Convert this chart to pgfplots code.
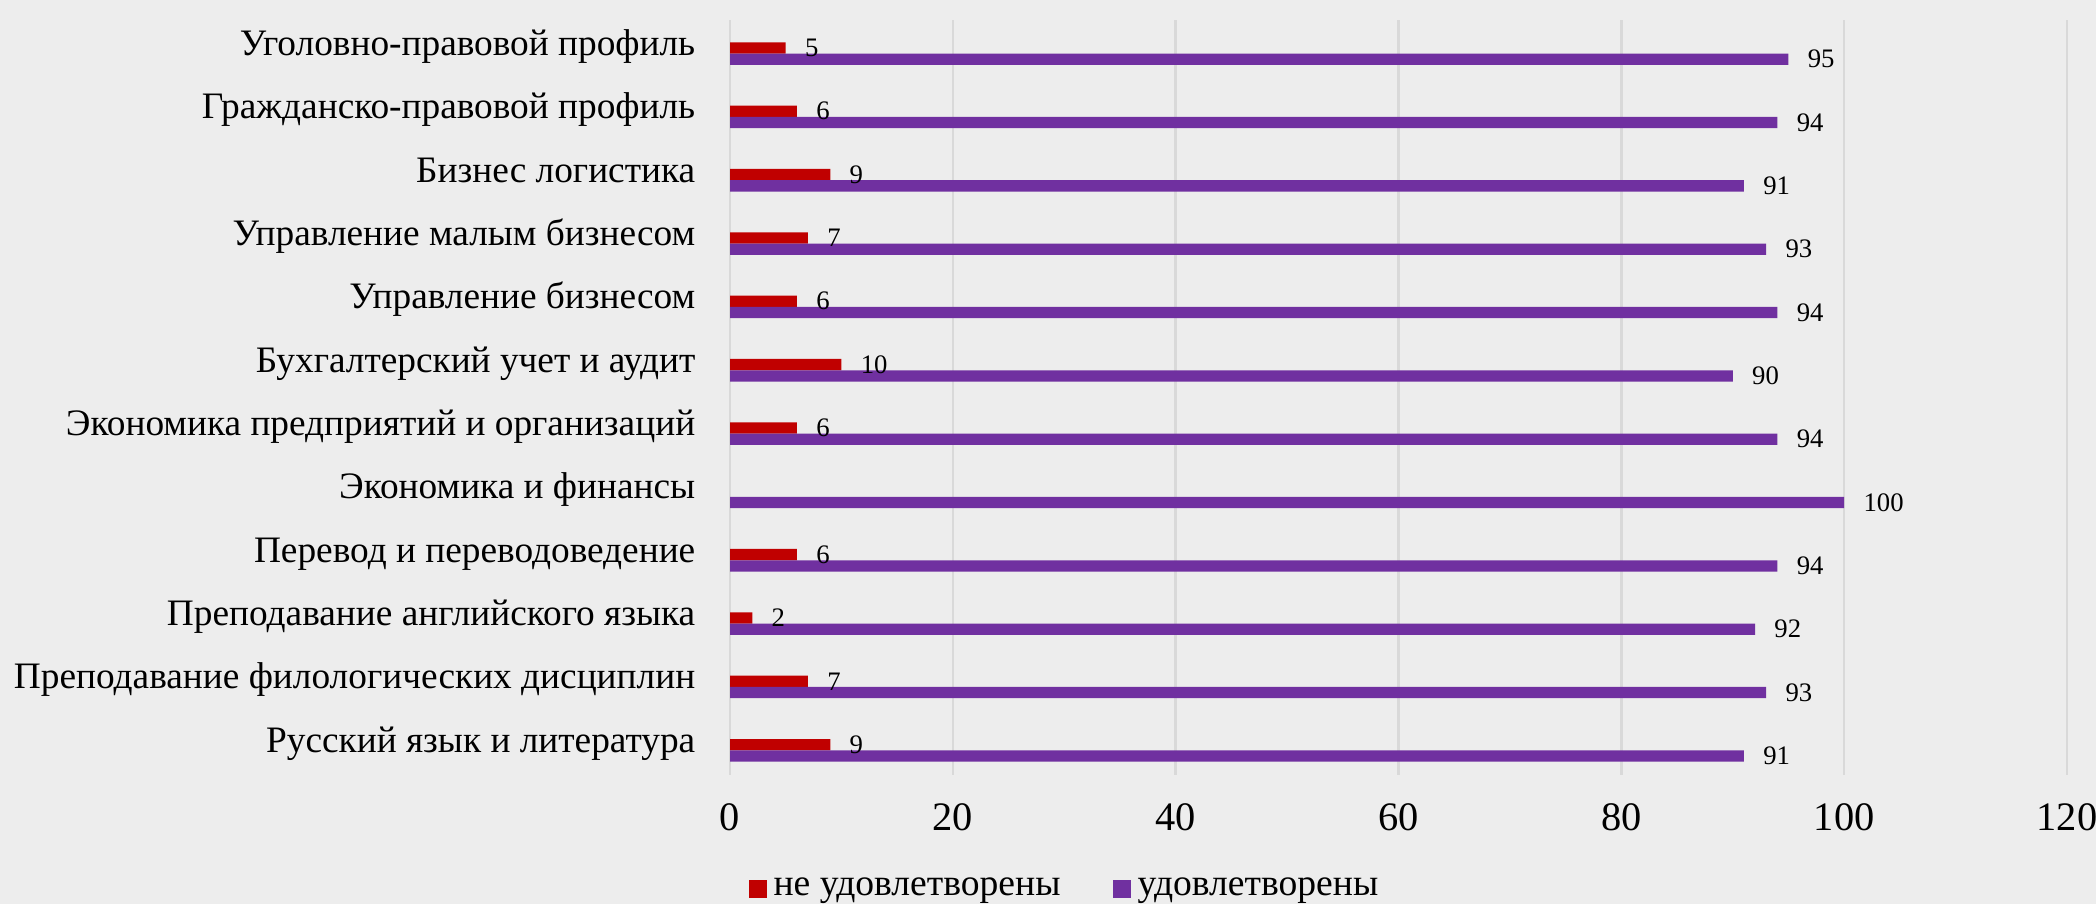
\documentclass[border=0pt]{standalone}
\usepackage{fontspec}
\setmainfont{Liberation Serif}
\usepackage{pgfplots}
\pgfplotsset{compat=1.18}

\definecolor{bgc}{HTML}{EDEDED}
\definecolor{gridc}{HTML}{D9D9D9}
\definecolor{redc}{HTML}{C00000}
\definecolor{purc}{HTML}{7030A0}

\begin{document}
\begin{tikzpicture}
\fill[bgc] (0,0) rectangle (20.96,9.04);
\useasboundingbox (0,0) rectangle (20.96,9.04);
\begin{axis}[
    at={(7.30cm,1.29cm)}, anchor=south west,
    scale only axis, width=13.37cm, height=7.55cm,
    xbar,
    xmin=0, xmax=120, xtick={0,20,...,120},
    ymin=-0.39, ymax=11.53,
    ytick={0,...,11},
    yticklabels={Русский язык и литература,
                 Преподавание филологических дисциплин,
                 Преподавание английского языка,
                 Перевод и переводоведение,
                 Экономика и финансы,
                 Экономика предприятий и организаций,
                 Бухгалтерский учет и аудит,
                 Управление бизнесом,
                 Управление малым бизнесом,
                 Бизнес логистика,
                 Гражданско-правовой профиль,
                 Уголовно-правовой профиль},
    bar width=0.178,
    xmajorgrids, grid style={gridc, line width=0.7pt},
    axis line style={draw=none},
    major tick length=0,
    /pgf/number format/assume math mode=true,
    xticklabel style={font=\fontsize{11.5}{13}\selectfont, anchor=base, yshift=-0.56cm},
    yticklabel style={font=\fontsize{10.62}{12}\selectfont, anchor=base east, inner sep=0pt, xshift=-0.34cm, yshift=-0.02cm},
    nodes near coords,
    every node near coord/.append style={font=\fontsize{7.6}{9}\selectfont, anchor=west, xshift=0.07cm, color=black},
    legend style={at={(0.252,-0.151)}, anchor=center, draw=none, fill=none,
                  legend columns=2, font=\fontsize{10.7}{12}\selectfont,
                  /tikz/every even column/.append style={column sep=0.45cm}},
    legend image code/.code={\fill[#1, draw=none] (0cm,-0.085cm) rectangle (0.18cm,0.095cm);},
]
% не удовлетворены
\addplot[fill=redc, draw=none, bar shift=0.089] coordinates {
    (9,0) (7,1) (2,2) (6,3) (6,5) (10,6) (6,7) (7,8) (9,9) (6,10) (5,11)};
% удовлетворены
\addplot[fill=purc, draw=none, bar shift=-0.089] coordinates {
    (91,0) (93,1) (92,2) (94,3) (100,4) (94,5) (90,6) (94,7) (93,8) (91,9) (94,10) (95,11)};
\legend{не удовлетворены, удовлетворены}
\end{axis}
\end{tikzpicture}
\end{document}
